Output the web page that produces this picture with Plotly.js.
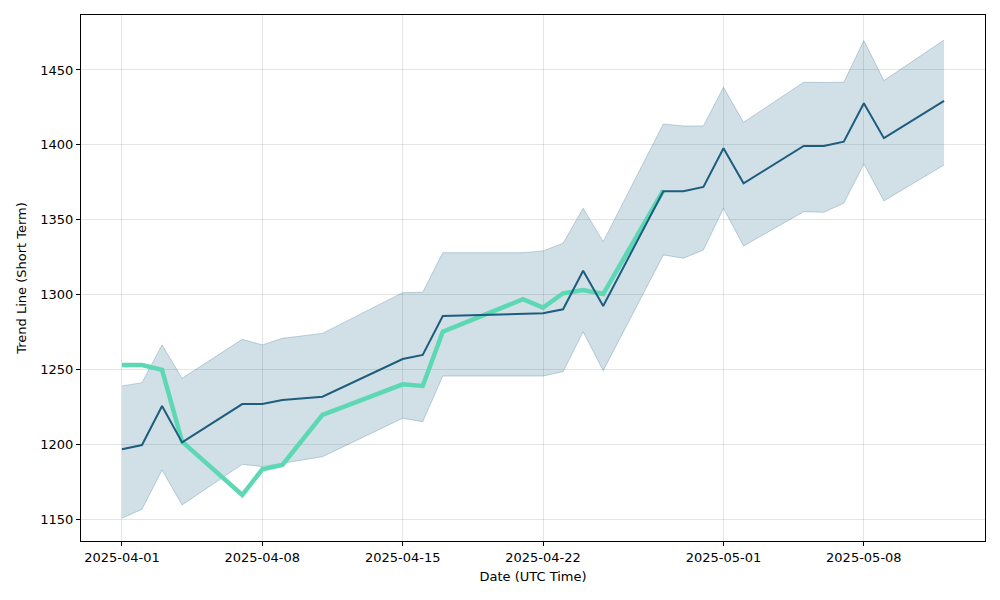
<!DOCTYPE html>
<html>
<head>
<meta charset="utf-8">
<script src="https://cdn.plot.ly/plotly-3.0.1.min.js"></script>
<style>
  html, body { margin: 0; padding: 0; background: #fff; }
  #chart { width: 1000px; height: 600px; }
</style>
</head>
<body>
<div id="chart"></div>
<script>
// trading days shown on the chart
var dates = [
  '2025-04-01', '2025-04-02', '2025-04-03', '2025-04-04', '2025-04-07', '2025-04-08',
  '2025-04-09', '2025-04-11', '2025-04-15', '2025-04-16', '2025-04-17', '2025-04-21',
  '2025-04-22', '2025-04-23', '2025-04-24', '2025-04-25', '2025-04-28', '2025-04-29',
  '2025-04-30', '2025-05-01', '2025-05-02', '2025-05-05', '2025-05-06', '2025-05-07',
  '2025-05-08', '2025-05-09', '2025-05-12'
];

// short term trend line
var trend = [
  1196.6, 1199.4, 1225.5, 1201.2, 1226.8, 1226.8, 1229.5, 1231.7, 1256.9, 1259.6,
  1285.6, 1287.0, 1287.4, 1290.1, 1315.9, 1292.3, 1369.0, 1369.0, 1371.8, 1397.7,
  1374.3, 1399.2, 1399.2, 1402.1, 1427.7, 1404.4, 1429.3
];

// band around the trend
var upper = [
  1238.9, 1241.1, 1266.3, 1244.0, 1270.0, 1266.3, 1270.7, 1274.0, 1301.2, 1301.5,
  1327.9, 1327.9, 1329.1, 1334.2, 1357.6, 1335.3, 1413.9, 1412.6, 1412.6, 1438.4,
  1415.0, 1441.8, 1441.6, 1441.8, 1469.6, 1442.9, 1470.0
];
var lower = [
  1150.5, 1156.5, 1182.7, 1159.4, 1186.5, 1185.0, 1187.2, 1191.6, 1217.3, 1215.0,
  1245.5, 1245.5, 1245.5, 1248.4, 1275.1, 1249.1, 1326.4, 1324.2, 1329.7, 1357.6,
  1332.4, 1355.3, 1354.9, 1360.9, 1387.2, 1362.5, 1386.5
];

// actual values (stop at 2025-04-28)
var actual = [
  1252.9, 1252.9, 1249.6, 1201.7, 1166.0, 1183.2, 1186.1, 1219.5, 1240.0, 1238.9,
  1275.1, 1296.8, 1291.2, 1300.8, 1303.0, 1300.3, 1369.5
];

var xTicks = ['2025-04-01', '2025-04-08', '2025-04-15', '2025-04-22', '2025-05-01', '2025-05-08'];
var yTicks = [1150, 1200, 1250, 1300, 1350, 1400, 1450];

var edge = 'rgba(25,95,130,0.25)';

var data = [
  {
    x: dates, y: lower, mode: 'lines', type: 'scatter',
    line: { color: edge, width: 1 }, hoverinfo: 'skip', showlegend: false
  },
  {
    x: dates, y: upper, mode: 'lines', type: 'scatter',
    fill: 'tonexty', fillcolor: 'rgba(25,95,130,0.2)',
    line: { color: edge, width: 1 }, hoverinfo: 'skip', showlegend: false
  },
  {
    x: dates.slice(0, actual.length), y: actual, mode: 'lines', type: 'scatter',
    line: { color: '#5dd8b4', width: 4.5 }, showlegend: false
  },
  {
    x: dates, y: trend, mode: 'lines', type: 'scatter',
    line: { color: '#1d5d7d', width: 2 }, showlegend: false
  }
];

var axisFont = { family: 'DejaVu Sans', size: 13, color: '#000' };

var layout = {
  width: 1000,
  height: 600,
  margin: { l: 81, r: 15, t: 15, b: 59 },
  paper_bgcolor: '#fff',
  plot_bgcolor: '#fff',
  font: axisFont,
  showlegend: false,
  xaxis: {
    type: 'date',
    range: ['2025-03-29 23:00', '2025-05-14 01:00'],
    tickvals: xTicks,
    ticktext: xTicks,
    tickfont: axisFont,
    ticks: 'outside', ticklen: 4, tickwidth: 1, tickcolor: '#000',
    showline: true, linecolor: '#000', linewidth: 1, mirror: true,
    showgrid: true, gridcolor: 'rgba(0,0,0,0.1)', gridwidth: 1,
    zeroline: false,
    title: { text: 'Date (UTC Time)', font: axisFont, standoff: 8 }
  },
  yaxis: {
    range: [1135.3, 1486.7],
    tickvals: yTicks,
    tickfont: axisFont,
    ticks: 'outside', ticklen: 4, tickwidth: 1, tickcolor: '#000',
    showline: true, linecolor: '#000', linewidth: 1, mirror: true,
    showgrid: true, gridcolor: 'rgba(0,0,0,0.1)', gridwidth: 1,
    zeroline: false,
    title: { text: 'Trend Line (Short Term)', font: axisFont, standoff: 10 }
  }
};

Plotly.newPlot('chart', data, layout, { staticPlot: true });
</script>
</body>
</html>
